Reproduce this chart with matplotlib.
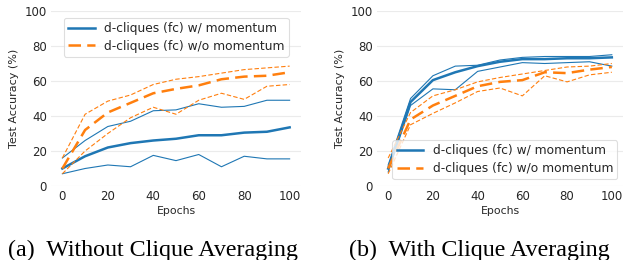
import matplotlib
matplotlib.use("Agg")
import matplotlib.pyplot as plt

epochs = [0, 10, 20, 30, 40, 50, 60, 70, 80, 90, 100]

# (a) Without clique averaging
a_mom_mean = [10, 17, 22, 24.5, 26, 27, 29, 29, 30.5, 31, 33.5]
a_mom_max = [16, 26, 34, 37, 43, 43.5, 47, 45, 45.5, 49, 49]
a_mom_min = [7, 10, 12, 11, 17.5, 14.5, 18, 11, 17, 15.5, 15.5]
a_nomom_mean = [10, 32, 42, 47.5, 53, 55.5, 57.5, 61, 62.5, 63, 65]
a_nomom_max = [16, 41, 48.5, 52, 58, 61, 62.5, 64.5, 66.5, 67.5, 68.5]
a_nomom_min = [7, 20, 30, 39, 45, 41, 49, 53, 49.5, 57, 58]

# (b) With clique averaging
b_mom_mean = [10, 48, 60.5, 65, 68.5, 71, 72.5, 72.5, 73, 73, 73.5]
b_mom_max = [12, 50, 63, 68.5, 69, 72, 73.5, 74, 74, 74, 75]
b_mom_min = [8, 46, 55.5, 55, 65.5, 68, 70.5, 70, 70.5, 71, 68.5]
b_nomom_mean = [10, 38, 46, 51.5, 57, 59.5, 60.5, 65, 64.5, 66.5, 68]
b_nomom_max = [16, 42, 51.5, 55, 59.5, 62, 64, 66, 68, 68.5, 70]
b_nomom_min = [7, 35, 41.5, 47.5, 54, 56, 51.5, 63, 59.5, 63.5, 65]

labels = ["d-cliques (fc) w/ momentum", "d-cliques (fc) w/o momentum"]
captions = ["(a)  Without Clique Averaging", "(b)  With Clique Averaging"]

BLUE = "#1f77b4"
ORANGE = "#ff7f0e"

fig = plt.figure(figsize=(6.25, 2.6), dpi=100)
ax_a = fig.add_axes([51 / 625, 74 / 260, 250 / 625, 175 / 260])
ax_b = fig.add_axes([377 / 625, 74 / 260, 246 / 625, 175 / 260])

def draw(ax, mm, mx, mn, nm, nx, nn, legend_loc, anchor):
    h1, = ax.plot(epochs, mm, color=BLUE, lw=1.8, label=labels[0])
    ax.plot(epochs, mx, color=BLUE, lw=0.8)
    ax.plot(epochs, mn, color=BLUE, lw=0.8)
    h2, = ax.plot(epochs, nm, color=ORANGE, lw=1.8, ls=(0, (5, 2.5)), label=labels[1])
    ax.plot(epochs, nx, color=ORANGE, lw=0.8, ls=(0, (4, 2)))
    ax.plot(epochs, nn, color=ORANGE, lw=0.8, ls=(0, (4, 2)))
    ax.set_ylim(0, 100)
    ax.set_xlim(-5, 105)
    ax.set_xticks([0, 20, 40, 60, 80, 100])
    ax.set_yticks([0, 20, 40, 60, 80, 100])
    ax.tick_params(labelsize=8.5, length=0, pad=3, colors="#262626")
    for s in ax.spines.values():
        s.set_visible(False)
    ax.grid(axis="y", color="#ebebeb", lw=0.8)
    ax.set_axisbelow(True)
    ax.set_xlabel("Epochs", fontsize=7.8, labelpad=2, color="#262626")
    ax.set_ylabel("Test Accuracy (%)", fontsize=8, labelpad=4, color="#262626")
    leg = ax.legend(handles=[h1, h2], loc=legend_loc, bbox_to_anchor=anchor, fontsize=8.8,
                    frameon=True, framealpha=0.8, edgecolor="#d6d6d6", borderaxespad=0,
                    handlelength=2.2, borderpad=0.33, labelspacing=0.38, handletextpad=0.75)
    leg.get_frame().set_linewidth(0.8)
    for t in leg.get_texts():
        t.set_color("#262626")

draw(ax_a, a_mom_mean, a_mom_max, a_mom_min, a_nomom_mean, a_nomom_max, a_nomom_min,
     "upper left", (0.052, 0.96))
draw(ax_b, b_mom_mean, b_mom_max, b_mom_min, b_nomom_mean, b_nomom_max, b_nomom_min,
     "lower right", (0.976, 0.04))

fig.text(8 / 625, 1 - 256 / 260, captions[0], fontsize=17.3, family="Liberation Serif",
         ha="left", va="baseline")
fig.text(349 / 625, 1 - 256 / 260, captions[1], fontsize=17.3, family="Liberation Serif",
         ha="left", va="baseline")

fig.savefig("out.png", dpi=100)
